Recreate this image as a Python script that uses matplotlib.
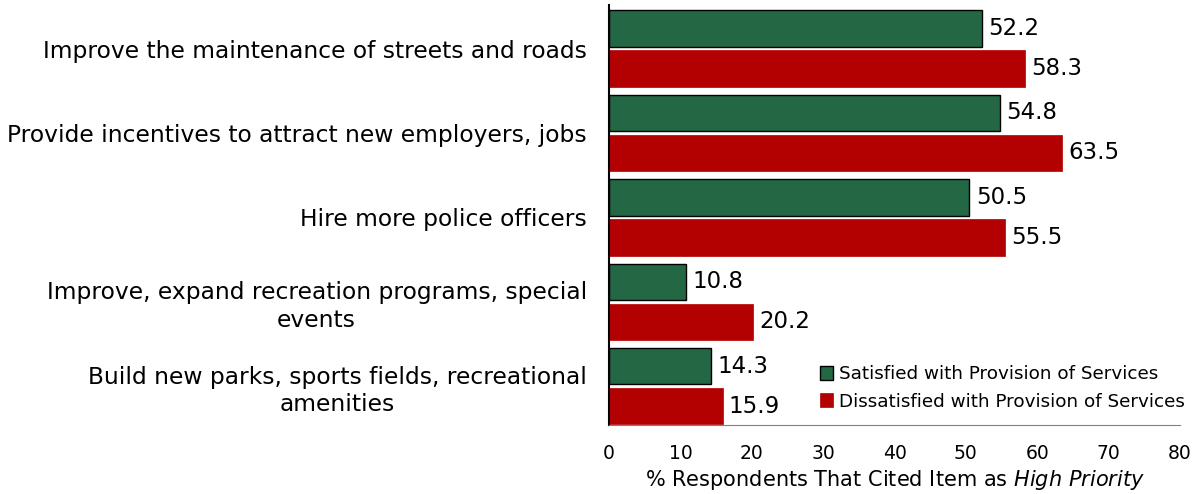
import matplotlib.pyplot as plt
import numpy as np

categories = [
    "Improve the maintenance of streets and roads",
    "Provide incentives to attract new employers, jobs",
    "Hire more police officers",
    "Improve, expand recreation programs, special\nevents",
    "Build new parks, sports fields, recreational\namenities",
]
satisfied = [52.2, 54.8, 50.5, 10.8, 14.3]
dissatisfied = [58.3, 63.5, 55.5, 20.2, 15.9]
series_names = ["Satisfied with Provision of Services",
                "Dissatisfied with Provision of Services"]

green = "#236745"
red = "#b30000"

fig = plt.figure(figsize=(11.97, 4.94), dpi=100)
ax = fig.add_axes([0.5088, 0.1397, 0.477, 0.85])

y = np.arange(len(categories))
h = 0.43
b1 = ax.barh(y - 0.237, satisfied, height=h, color=green, edgecolor="black",
             linewidth=1, label=series_names[0])
b2 = ax.barh(y + 0.237, dissatisfied, height=h, color=red, edgecolor=red,
             linewidth=0.5, label=series_names[1])

for bars, vals in ((b1, satisfied), (b2, dissatisfied)):
    for bar, v in zip(bars, vals):
        ax.text(v + 0.9, bar.get_y() + bar.get_height() / 2, f"{v:.1f}",
                va="center", ha="left", fontsize=16.5)

ax.set_xlim(0, 80)
ax.set_ylim(4.46, -0.515)
ax.set_xticks(range(0, 81, 10))
ax.set_yticks(y)
ax.set_yticklabels(categories, fontsize=16.8, ma="center", linespacing=1.25)
ax.tick_params(axis="y", length=0, pad=16)
ax.tick_params(axis="x", length=0, pad=14, labelsize=13.5)

for s in ("top", "right"):
    ax.spines[s].set_visible(False)
ax.spines["left"].set_color("black")
ax.spines["left"].set_linewidth(1.5)
ax.spines["bottom"].set_color("#808080")

ax.set_xlabel(r"% Respondents That Cited Item as $\it{High\ Priority}$",
              fontsize=15, labelpad=3)

ax.legend(loc="lower right", bbox_to_anchor=(1.037, -0.005), frameon=False,
          fontsize=13.2, handlelength=0.75, handleheight=0.75,
          handletextpad=0.3, labelspacing=0.5)

fig.savefig("out.png", dpi=100)
